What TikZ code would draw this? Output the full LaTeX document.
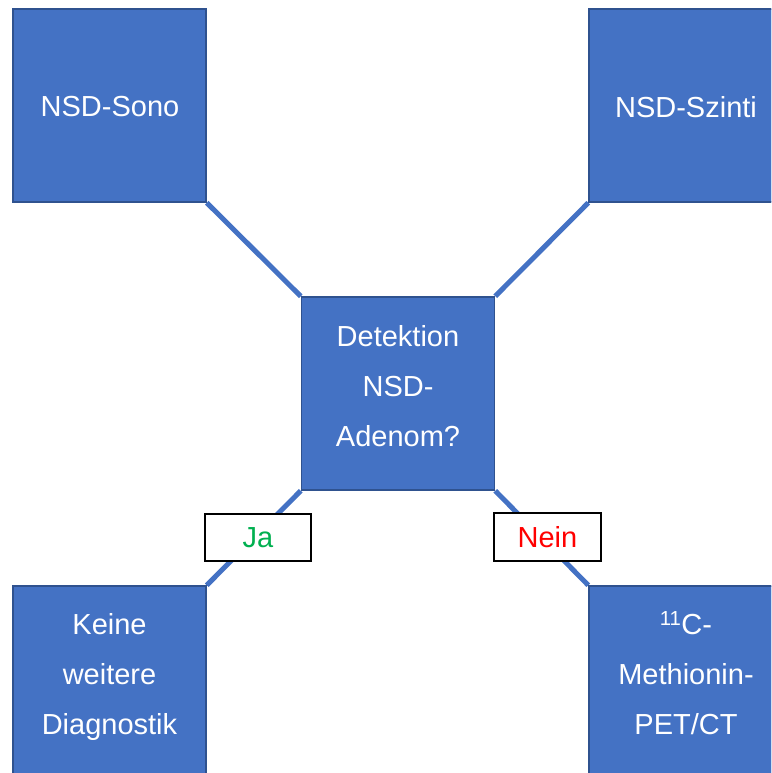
\documentclass[tikz,border=0pt]{standalone}
\usepackage{fontspec}
\setmainfont{Liberation Sans}
\definecolor{boxblue}{HTML}{4472C4}
\definecolor{boxedge}{HTML}{2F528F}
\definecolor{jagreen}{HTML}{00B050}
\definecolor{neinred}{HTML}{FF0000}
\begin{document}
\begin{tikzpicture}[x=1pt,y=-1pt,
  bluebox/.style={draw=boxedge, line width=1.5pt, fill=boxblue, minimum width=193pt, minimum height=193pt, inner sep=0pt},
  txt/.style={font=\fontsize{29}{50}\selectfont, text=white, align=center, inner sep=0pt},
  conn/.style={draw=boxblue, line width=5pt},
  lab/.style={draw=black, line width=2pt, fill=white, inner sep=0pt, font=\fontsize{29}{34}\selectfont}]
\path[use as bounding box, clip] (0,0) rectangle (771,773);
% boxes
\node[bluebox] (sono) at (109.5,105.5) {};
\node[bluebox] (szinti) at (685.5,105.5) {};
\node[bluebox] (center) at (398,393.5) {};
\node[bluebox] (keine) at (109.5,682.5) {};
\node[bluebox] (pet) at (685.5,682.5) {};
% connectors
\draw[conn] (sono.south east) -- (center.north west);
\draw[conn] (szinti.south west) -- (center.north east);
\draw[conn] (center.south west) -- (keine.north east);
\draw[conn] (center.south east) -- (pet.north west);
% redraw boxes over line ends
\node[bluebox] at (sono) {};
\node[bluebox] at (szinti) {};
\node[bluebox] at (center) {};
\node[bluebox] at (keine) {};
\node[bluebox] at (pet) {};
% labels
\node[lab, minimum width=106pt, minimum height=47pt, text=jagreen] (ja) at (258,537.5) {Ja};
\node[lab, minimum width=107pt, minimum height=48pt, text=neinred] (nein) at (547.5,537) {Nein};
% texts
\node[txt] (sonotxt) at (110,107) {NSD-Sono};
\node[txt] (szintitxt) at (686,107) {NSD-Szinti};
\node[txt] (centertxt) at (398,388.75) {\rule{0pt}{22pt}Detektion\\NSD-\\Adenom?\rule[-7pt]{0pt}{7pt}};
\node[txt] (keinetxt) at (109.5,676.75) {\rule{0pt}{22pt}Keine\\weitere\\Diagnostik\rule[-7pt]{0pt}{7pt}};
\node[txt] (pettxt) at (686,676.75) {\rule{0pt}{22pt}\textsuperscript{11}C-\\Methionin-\\PET/CT\rule[-7pt]{0pt}{7pt}};
\end{tikzpicture}
\end{document}
